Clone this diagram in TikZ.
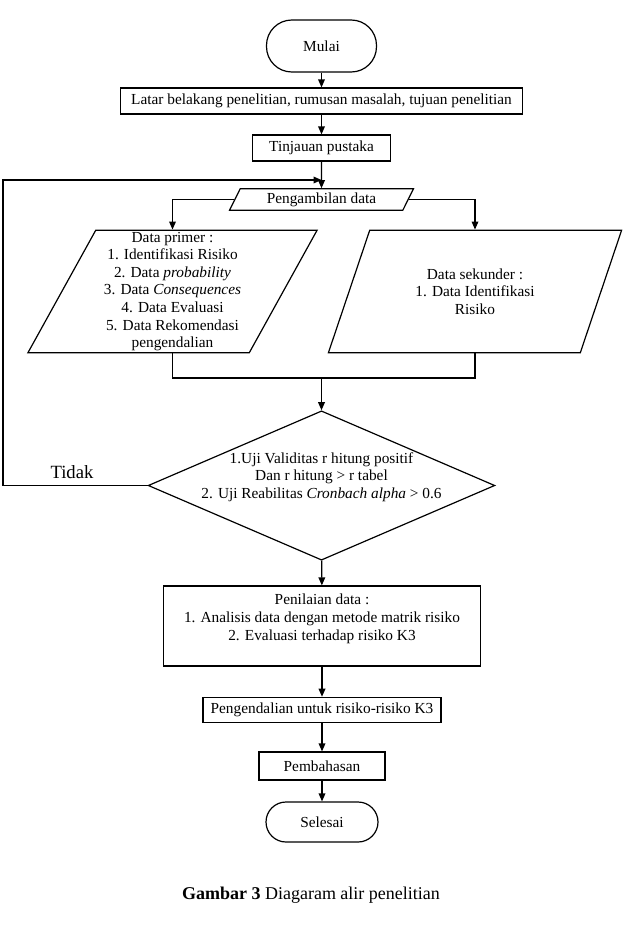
\documentclass[tikz,border=0pt]{standalone}
\usepackage{fontspec}
\setmainfont{Liberation Serif}
\usetikzlibrary{shapes.geometric,arrows.meta}

\begin{document}
\begin{tikzpicture}[x=0.75pt,y=0.75pt,yscale=-1,xscale=1,
  font=\fontsize{11.5}{13.2}\selectfont,
  garis/.style={line width=0.9pt},
  panah/.style={garis,-{Triangle[length=6pt,width=5pt]}},
  kotak/.style={draw,line width=0.9pt,align=center,inner sep=1pt},
  terminal/.style={kotak,rounded corners=#1},
  jajar/.style={draw,line width=0.9pt,trapezium,trapezium left angle=63,trapezium right angle=117,trapezium stretches=true,align=center,inner sep=0pt},
  keputusan/.style={draw,line width=0.9pt,diamond,inner sep=0pt}
]
\useasboundingbox (0,0) rectangle (626,935);

% Flowchart: Terminator
\node [terminal=19pt,minimum width=82.5pt,minimum height=39pt] (mulai) at (321.5,46) {Mulai};
% Flowchart: Process
\node [kotak,minimum width=302pt,minimum height=19.5pt] (latar) at (321.5,101) {Latar belakang penelitian, rumusan masalah, tujuan penelitian};
% Flowchart: Process
\node [kotak,minimum width=103pt,minimum height=19.5pt] (tinjauan) at (321.5,148) {Tinjauan pustaka};
% Flowchart: Data
\node [jajar,minimum width=139pt,minimum height=16pt] (ambil) at (321.5,199.5) {Pengambilan data};
% Flowchart: Data
\node [jajar,minimum width=217pt,minimum height=92pt] (primer) at (172.5,291.5) {Data primer :\\1. Identifikasi Risiko\\2. Data \textit{probability}\\3. Data \textit{Consequences}\\4. Data Evaluasi\\5. Data Rekomendasi\\pengendalian};
% Flowchart: Data
\node [jajar,minimum width=220pt,minimum height=92pt] (sekunder) at (475,291.5) {Data sekunder :\\1. Data Identifikasi\\Risiko};
% Flowchart: Decision
\node [keputusan,minimum width=260pt,minimum height=112pt] (uji) at (321.5,485.5) {};
% Text Node
\node [align=center] (ujiteks) at (321.5,477) {1.Uji Validitas r hitung positif\\Dan r hitung > r tabel\\2. Uji Reabilitas \textit{Cronbach alpha} > 0.6};
% Flowchart: Process
\node [kotak,minimum width=238pt,minimum height=60pt] (penilaian) at (322,626) {Penilaian data :\\1. Analisis data dengan metode matrik risiko\\2. Evaluasi terhadap risiko K3\\ ~};
% Flowchart: Process
\node [kotak,minimum width=178.5pt,minimum height=19pt] (kendali) at (322,710) {Pengendalian untuk risiko-risiko K3};
% Flowchart: Process
\node [kotak,minimum width=94.5pt,minimum height=21pt] (bahas) at (322,766) {Pembahasan};
% Flowchart: Terminator
\node [terminal=15pt,minimum width=84pt,minimum height=30pt] (selesai) at (322,822) {Selesai};

% Text Node
\node (tidak) at (72,472) {\fontsize{14}{16}\selectfont Tidak};
% Text Node
\node (judul) at (311,895) {\fontsize{13.5}{16}\selectfont\textbf{Gambar 3} Diagaram alir penelitian};

\coordinate (kiri) at (3,485.5);
\coordinate (masuk) at (321.5,180);
\coordinate (gabung) at (321.5,378);

%Straight Lines
\draw [panah] (mulai) -- (latar);
\draw [panah] (latar) -- (tinjauan);
\draw [panah] (tinjauan) -- (ambil);
\draw [panah] (uji) -- (kiri) |- (masuk);
\draw [panah] (ambil) -| (primer);
\draw [panah] (ambil) -| (sekunder);
\draw [garis] (primer) |- (gabung) -| (sekunder);
\draw [panah] (gabung) -- (uji);
\draw [panah] (uji) -- (penilaian);
\draw [panah] (penilaian) -- (kendali);
\draw [panah] (kendali) -- (bahas);
\draw [panah] (bahas) -- (selesai);

\end{tikzpicture}
\end{document}
